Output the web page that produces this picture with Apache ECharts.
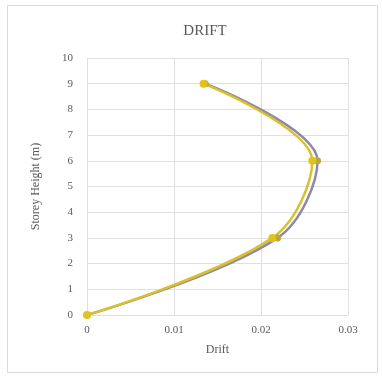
<!DOCTYPE html>
<html><head><meta charset="utf-8">
<script src="https://cdn.jsdelivr.net/npm/echarts@6/dist/echarts.min.js"></script>
<style>html,body{margin:0;padding:0;background:#fff}#c{width:382px;height:383px}</style>
</head><body><div id="c"></div>
<script>
const storeyHeights = [0, 3, 6, 9];
const driftGray = [0, 0.0219, 0.0265, 0.0136];
const driftYellow = [0, 0.0213, 0.0259, 0.0134];
const xTicks = [0, 0.01, 0.02, 0.03];
const yTicks = [0,1,2,3,4,5,6,7,8,9,10];

const font = '"Liberation Serif", "Times New Roman", serif';
const chart = echarts.init(document.getElementById('c'), null, {renderer:'canvas'});
chart.setOption({
  animation:false,
  title:{text:'DRIFT', left:200, top:19, textAlign:'center', textStyle:{fontFamily:font, fontSize:15, fontWeight:'normal', color:'#595959'}},
  graphic:[{type:'rect', shape:{x:7.5,y:5.5,width:370,height:367}, style:{fill:'none', stroke:'#d9d9d9', lineWidth:1}}],
  grid:{left:87, right:34, top:58, bottom:68},
  xAxis:{type:'value', min:0, max:0.03, interval:0.01, name:'Drift', nameLocation:'middle', nameGap:29,
    nameTextStyle:{fontFamily:font, fontSize:12, color:'#595959'},
    axisLine:{show:false}, axisTick:{show:false},
    axisLabel:{fontFamily:font, fontSize:11, color:'#595959', margin:10, formatter:v=>String(+v.toFixed(2))},
    splitLine:{lineStyle:{color:'#e0e0e0'}}},
  yAxis:{type:'value', min:0, max:10, interval:1, name:'Storey Height (m)', nameLocation:'middle', nameGap:45,
    nameTextStyle:{fontFamily:font, fontSize:12, color:'#595959'},
    axisLine:{show:false}, axisTick:{show:false},
    axisLabel:{fontFamily:font, fontSize:11, color:'#595959', margin:14},
    splitLine:{lineStyle:{color:'#e0e0e0'}}},
  series:[
    {type:'line', smooth:0.35, data:storeyHeights.map((h,i)=>[driftGray[i],h]), symbol:'circle', symbolSize:7,
     lineStyle:{color:'#8c88a6', width:2.5}, itemStyle:{color:'#b8a640'}},
    {type:'line', smooth:0.35, data:storeyHeights.map((h,i)=>[driftYellow[i],h]), symbol:'circle', symbolSize:8,
     lineStyle:{color:'#dcc02a', width:2.5}, itemStyle:{color:'#e3c21c'}}
  ]
});
</script></body></html>
